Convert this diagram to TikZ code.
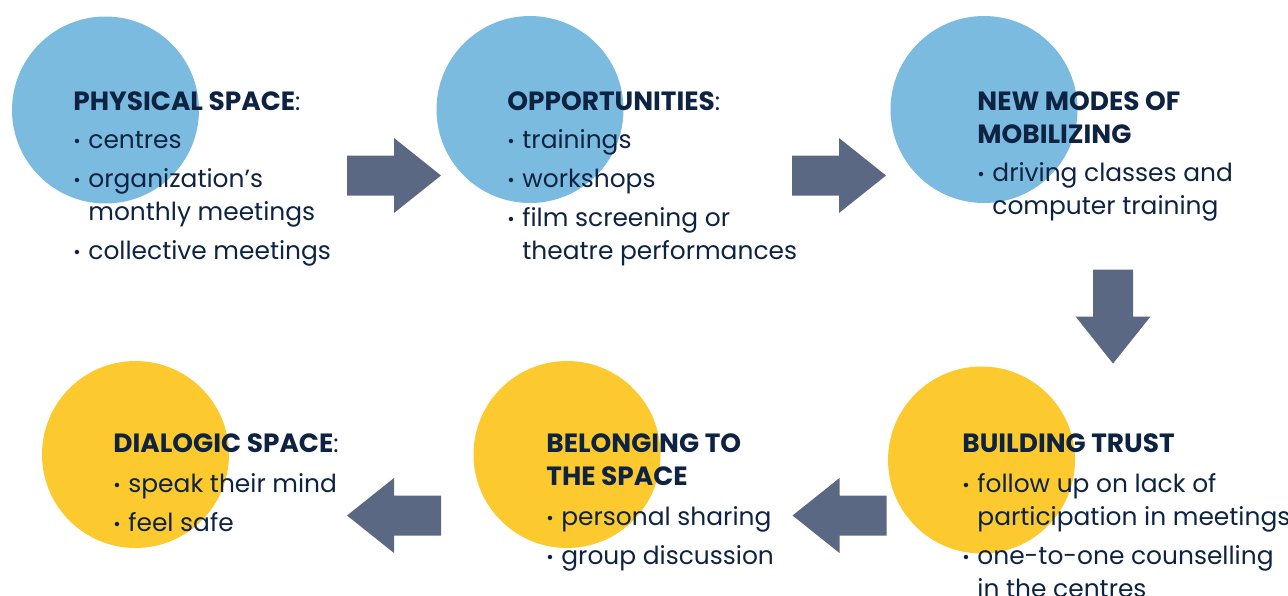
\documentclass[tikz,border=0pt]{standalone}
\usepackage{fontspec}
\setmainfont{Poppins}
\definecolor{skyblue}{HTML}{7BBBE0}
\definecolor{sunyellow}{HTML}{FCC92F}
\definecolor{slate}{HTML}{5A6884}
\definecolor{navy}{HTML}{0E2341}
\tikzset{
  bluedisc/.style={circle, fill=skyblue, minimum size=93.5pt, inner sep=0pt},
  yellowdisc/.style={circle, fill=sunyellow, minimum size=93.5pt, inner sep=0pt},
  blocktext/.style={anchor=north west, inner sep=0pt, align=left, text=navy},
  flowarrow/.pic={\fill[slate] (-47,-20) -- (0,-20) -- (0,-37.5) -- (47,0)
      -- (0,37.5) -- (0,20) -- (-47,20) -- cycle;}
}
\newcommand{\strt}{\rule{0pt}{10pt}}
\newcommand{\ttl}{\fontsize{13.2}{16.5}\selectfont\bfseries}
\newcommand{\bul}{\makebox[7.5pt][l]{\fontsize{9}{9}\selectfont\raisebox{0.6pt}{•}}}
\newcommand{\ind}{\hspace*{7.5pt}}

\begin{document}
\begin{tikzpicture}[x=0.5pt, y=-0.5pt, font=\fontsize{12.45}{16.5}\selectfont]
    \useasboundingbox (0,0) rectangle (1288,595);

    % Place the circles
    \node [bluedisc] (physical) at (105.5,110) {};
    \node [bluedisc] (opportunities) at (530,109.5) {};
    \node [bluedisc] (modes) at (984,109.5) {};
    \node [yellowdisc] (trust) at (981.5,460) {};
    \node [yellowdisc] (belonging) at (567,454.5) {};
    \node [yellowdisc] (dialogic) at (135.5,454.5) {};

    % Block arrows between the stages
    \pic at (394,175.5) {flowarrow};
    \pic at (839,175.5) {flowarrow};
    \pic [rotate=-90] at (1113,316.5) {flowarrow};
    \pic [rotate=180] at (839.5,515.5) {flowarrow};
    \pic [rotate=180] at (394,515.5) {flowarrow};

    % Texts
    \node [blocktext] (physicaltxt) at (73,90) {\strt{\ttl PHYSICAL SPACE}:\\[2.5pt]
        \bul centres\\[3pt]
        \bul organization’s\\
        \ind monthly meetings\\[3pt]
        \bul collective meetings};
    \node [blocktext] (opportunitiestxt) at (507,90) {\strt{\ttl OPPORTUNITIES}:\\[2.5pt]
        \bul trainings\\[3pt]
        \bul workshops\\[3pt]
        \bul film screening or\\
        \ind theatre performances};
    \node [blocktext] (modestxt) at (977,90) {\strt\ttl NEW MODES OF\\
        \ttl MOBILIZING\\[2.5pt]
        \bul driving classes and\\
        \ind computer training};
    \node [blocktext] (trusttxt) at (962,432) {\strt\ttl BUILDING TRUST\\[3.5pt]
        \bul follow up on lack of\\
        \ind participation in meetings\\[3pt]
        \bul one-to-one counselling\\
        \ind in the centres};
    \node [blocktext] (belongingtxt) at (546,432) {\strt\ttl BELONGING TO\\
        \ttl THE SPACE\\[3.5pt]
        \bul personal sharing\\[3pt]
        \bul group discussion};
    \node [blocktext] (dialogictxt) at (113,432) {\strt{\ttl DIALOGIC SPACE}:\\[3.5pt]
        \bul speak their mind\\[3pt]
        \bul feel safe};
\end{tikzpicture}
\end{document}
